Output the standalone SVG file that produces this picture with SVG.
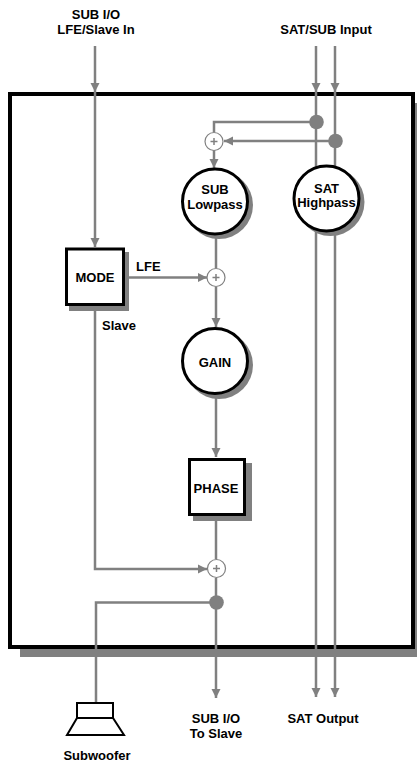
<svg xmlns="http://www.w3.org/2000/svg" width="417" height="762" viewBox="0 0 417 762">
<defs>
<style>
.t{font-family:"Liberation Sans",Arial,Helvetica,sans-serif;font-weight:bold;font-size:13px;fill:#000;text-anchor:middle}
.tl{font-family:"Liberation Sans",Arial,Helvetica,sans-serif;font-weight:bold;font-size:13px;fill:#000;text-anchor:start}
.c{fill:none;stroke:#808080;stroke-width:2.5}
.sh{fill:#808080;stroke:none}
.nb{fill:#fff;stroke:#000;stroke-width:3}
.sum{fill:#fff;stroke:#808080;stroke-width:1.2}
.plus{stroke:#808080;stroke-width:1.5;fill:none}
.dot{fill:#808080}
</style>
<marker id="ah" markerUnits="userSpaceOnUse" markerWidth="10" markerHeight="10" viewBox="0 0 10 10" refX="9" refY="5" orient="auto">
<path d="M0,0.5 L9,5 L0,9.5 Z" fill="#808080"/>
</marker>
</defs>
<rect width="417" height="762" fill="#fff"/>
<g id="enclosure">
<rect class="sh" x="20" y="103" width="405" height="554"/>
<rect x="10" y="94" width="403" height="553" fill="#fff" stroke="#000" stroke-width="4"/>
</g>
<g id="labels">
<text class="t" x="96" y="18.5">SUB I/O</text>
<text class="t" x="96" y="33.5">LFE/Slave In</text>
<text class="t" x="326" y="33.5">SAT/SUB Input</text>
<text class="tl" x="136" y="270.5">LFE</text>
<text class="tl" x="102" y="329.5">Slave</text>
<text class="t" x="216" y="722.5">SUB I/O</text>
<text class="t" x="216" y="737.5">To Slave</text>
<text class="t" x="323" y="723">SAT Output</text>
<text class="t" x="97" y="759.5">Subwoofer</text>
</g>
<g id="connectors">
<line class="c" x1="95" y1="46" x2="95" y2="92" marker-end="url(#ah)"/>
<line class="c" x1="95" y1="92" x2="95" y2="247" marker-end="url(#ah)"/>
<line class="c" x1="316" y1="46" x2="316" y2="92" marker-end="url(#ah)"/>
<line class="c" x1="335" y1="46" x2="335" y2="92" marker-end="url(#ah)"/>
<line class="c" x1="316" y1="92" x2="316" y2="697" marker-end="url(#ah)"/>
<line class="c" x1="335" y1="92" x2="335" y2="697" marker-end="url(#ah)"/>
<polyline class="c" points="316,122 214,122 214,132"/>
<line class="c" x1="335" y1="141" x2="224" y2="141" marker-end="url(#ah)"/>
<line class="c" x1="214" y1="150" x2="214" y2="168" marker-end="url(#ah)"/>
<line class="c" x1="216" y1="234" x2="216" y2="268"/>
<line class="c" x1="125" y1="277.5" x2="207" y2="277.5" marker-end="url(#ah)"/>
<line class="c" x1="216" y1="287" x2="216" y2="327" marker-end="url(#ah)"/>
<line class="c" x1="216" y1="395" x2="216" y2="457" marker-end="url(#ah)"/>
<line class="c" x1="216" y1="517" x2="216" y2="559"/>
<polyline class="c" points="95,306 95,569 207,569" marker-end="url(#ah)"/>
<line class="c" x1="216" y1="578" x2="216" y2="698" marker-end="url(#ah)"/>
<polyline class="c" points="216,602.5 96,602.5 96,703"/>
<circle class="dot" cx="316.5" cy="122" r="7.3"/>
<circle class="dot" cx="335.5" cy="141" r="7.3"/>
<circle class="dot" cx="216.5" cy="602.5" r="7.3"/>
</g>
<g id="sum_top">
<circle class="sum" cx="214" cy="141.5" r="9"/>
<path class="plus" d="M210.5,141.5 H217.5 M214,138 V145"/>
</g>
<g id="sum_lfe">
<circle class="sum" cx="216" cy="277.5" r="9"/>
<path class="plus" d="M212.5,277.5 H219.5 M216,274 V281"/>
</g>
<g id="sum_slave">
<circle class="sum" cx="216.5" cy="568.5" r="9"/>
<path class="plus" d="M213,568.5 H220 M216.5,565 V572"/>
</g>
<g id="sub_lowpass">
<circle class="sh" cx="219" cy="205" r="34"/>
<circle class="nb" cx="215" cy="201.5" r="32.5"/>
<text class="t" x="215" y="194">SUB</text>
<text class="t" x="215" y="208.5">Lowpass</text>
</g>
<g id="sat_highpass">
<circle class="sh" cx="330.5" cy="202" r="34"/>
<circle class="nb" cx="326.5" cy="198.5" r="32.5"/>
<text class="t" x="326.5" y="193">SAT</text>
<text class="t" x="326.5" y="206.5">Highpass</text>
</g>
<g id="mode">
<rect class="sh" x="69" y="252" width="60" height="59"/>
<rect class="nb" x="66.5" y="249" width="57" height="55.5"/>
<text class="t" x="95" y="282">MODE</text>
</g>
<g id="gain">
<circle class="sh" cx="219" cy="365" r="34"/>
<circle class="nb" cx="215" cy="361" r="32.5"/>
<text class="t" x="215" y="366.5">GAIN</text>
</g>
<g id="phase">
<rect class="sh" x="193" y="463" width="59" height="58"/>
<rect class="nb" x="189.5" y="459.5" width="55" height="55"/>
<text class="t" x="216" y="492.5">PHASE</text>
</g>
<g id="subwoofer">
<rect x="77" y="703" width="36" height="15" fill="#fff" stroke="#000" stroke-width="2"/>
<polygon points="77,718 113,718 124,735 67,735" fill="#fff" stroke="#000" stroke-width="2"/>
</g>
</svg>
